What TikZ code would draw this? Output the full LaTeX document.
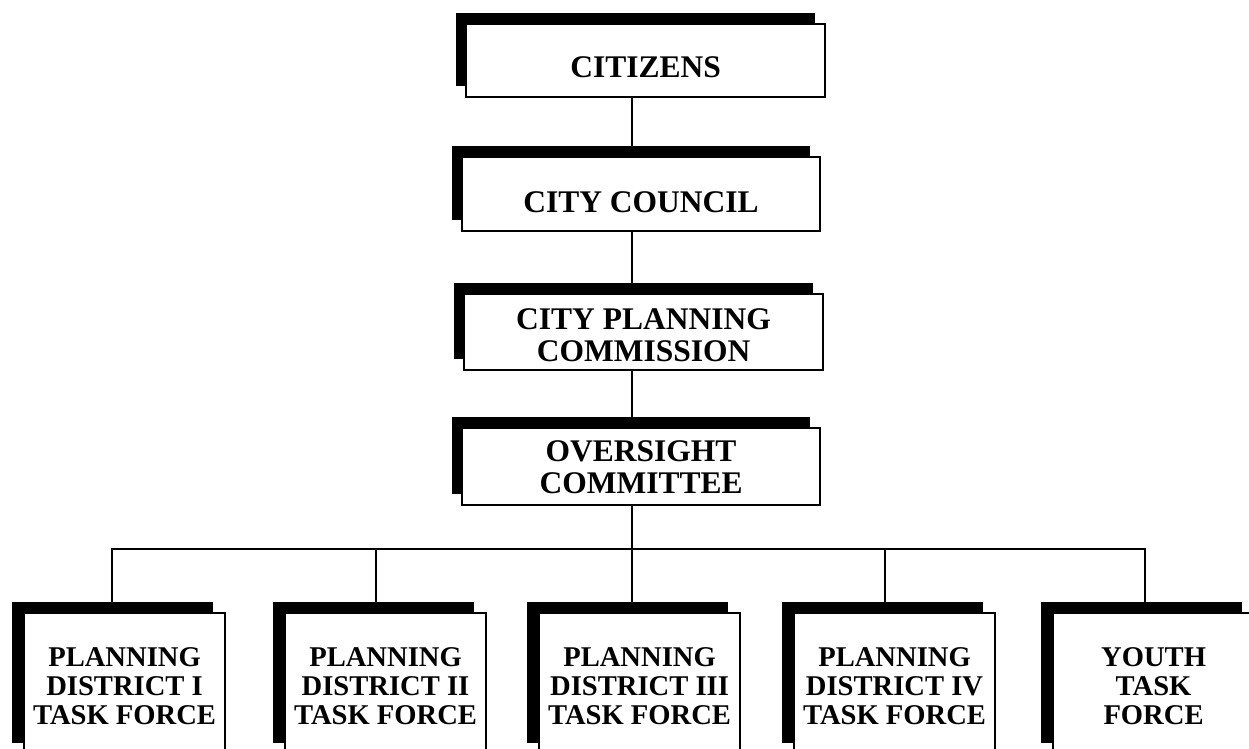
\documentclass[tikz,border=0pt]{standalone}
\usepackage{fontspec}
\setmainfont{Liberation Serif}
\usetikzlibrary{shadows}
\tikzset{
  box/.style={draw=black, line width=2.1pt, fill=white, inner sep=0pt, anchor=north west},
  topbox/.style={box, general shadow={fill=black, shadow xshift=-10pt, shadow yshift=11.5pt}},
  lowbox/.style={box, minimum width=201pt, minimum height=141pt,
    general shadow={fill=black, shadow xshift=-12.5pt, shadow yshift=11pt}},
  toptxt/.style={font=\bfseries\fontsize{31.5}{32}\selectfont, align=center, inner sep=0pt},
  lowtxt/.style={font=\bfseries\fontsize{28.6}{29}\selectfont, align=center, inner sep=0pt},
  link/.style={line width=2pt}
}
\begin{document}
\begin{tikzpicture}[x=1pt,y=-1pt]
\useasboundingbox (0,0) rectangle (1249,748);
\clip (0,0) rectangle (1249,748);
\fill[white] (0,0) rectangle (1249,748);
% upper chain
\node[topbox, minimum width=359pt, minimum height=73pt] (cit) at (465,23) {};
\node[topbox, minimum width=358pt, minimum height=74pt] (cc)  at (461,156) {};
\node[topbox, minimum width=359pt, minimum height=76pt] (cpc) at (463,293) {};
\node[topbox, minimum width=358pt, minimum height=77pt] (ov)  at (461,427) {};
% lower row
\node[lowbox] (pd1) at (23,612) {};
\node[lowbox] (pd2) at (284,612) {};
\node[lowbox] (pd3) at (538,612) {};
\node[lowbox] (pd4) at (793,612) {};
\node[lowbox] (yt)  at (1052,612) {};
% texts
\node[toptxt] (cit-t) at ([yshift=-7pt]cit.center) {CITIZENS};
\node[toptxt] (cc-t)  at ([yshift=-8pt]cc.center) {CITY COUNCIL};
\node[toptxt] (cpc-t) at ([yshift=-3.5pt]cpc.center) {CITY PLANNING\\COMMISSION};
\node[toptxt] (ov-t)  at ([yshift=-1pt]ov.center) {OVERSIGHT\\COMMITTEE};
\node[lowtxt] (pd1-t) at ([yshift=-2.5pt]pd1.center) {PLANNING\\DISTRICT I\\TASK FORCE};
\node[lowtxt] (pd2-t) at ([yshift=-2.5pt]pd2.center) {PLANNING\\DISTRICT II\\TASK FORCE};
\node[lowtxt] (pd3-t) at ([yshift=-2.5pt]pd3.center) {PLANNING\\DISTRICT III\\TASK FORCE};
\node[lowtxt] (pd4-t) at ([yshift=-2.5pt]pd4.center) {PLANNING\\DISTRICT IV\\TASK FORCE};
\node[lowtxt] (yt-t)  at ([yshift=-2.5pt]yt.center) {YOUTH\\TASK\\FORCE};
% connector coordinates
\coordinate (sp) at (632,0);
\coordinate (d1) at (112,549);
\coordinate (d2) at (376,549);
\coordinate (d3) at (632,549);
\coordinate (d4) at (885,549);
\coordinate (d5) at (1145,549);
% connectors
\draw[link] (cit.south -| sp) -- (cc.north -| sp);
\draw[link] (cc.south -| sp) -- (cpc.north -| sp);
\draw[link] (cpc.south -| sp) -- (ov.north -| sp);
\draw[link] (ov.south -| sp) -- (pd3.north -| sp);
\draw[link, line cap=rect] (d1) -- (d5);
\draw[link] (d1) -- (pd1.north -| d1);
\draw[link] (d2) -- (pd2.north -| d2);
\draw[link] (d4) -- (pd4.north -| d4);
\draw[link] (d5) -- (yt.north -| d5);
\end{tikzpicture}
\end{document}
